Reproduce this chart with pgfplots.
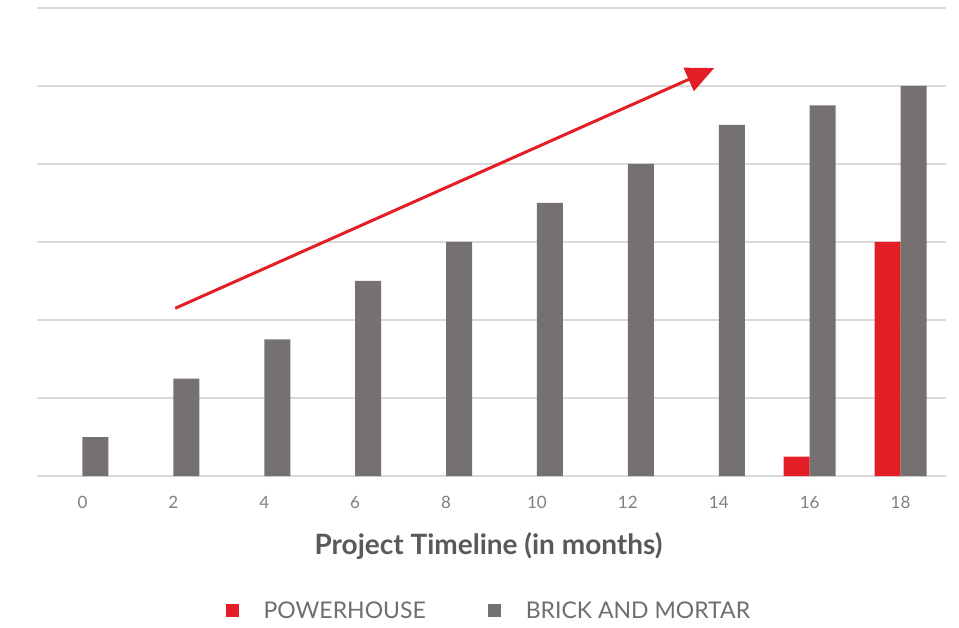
\documentclass[border=0pt]{standalone}
\usepackage{pgfplots}
\pgfplotsset{compat=1.18}
\usepackage{fontspec}
\setmainfont{Lato}
\usetikzlibrary{arrows.meta}
\definecolor{phred}{HTML}{E41E26}
\definecolor{bmgrey}{HTML}{767171}
\definecolor{gridgrey}{HTML}{D9D9D9}
\definecolor{tickgrey}{HTML}{7F7F7F}
\definecolor{lblgrey}{HTML}{595959}
\definecolor{leggrey}{HTML}{6E6E6E}
\begin{document}
\begin{tikzpicture}[x=1pt,y=1pt]
\path[use as bounding box] (0,0) rectangle (959,627);
\begin{axis}[
  at={(37pt,151pt)}, anchor=south west,
  scale only axis, width=909pt, height=468pt,
  xmin=-1, xmax=19, ymin=0, ymax=6,
  ybar=0pt, bar width=26pt,
  axis line style={draw=none},
  xtick={0,2,...,18}, ytick={0,...,6}, yticklabels={},
  major tick length=0pt,
  ymajorgrids=true,
  grid style={gridgrey, line width=2pt},
  /pgf/number format/assume math mode=true,
  xticklabel style={font=\fontsize{17}{19}\selectfont, text=tickgrey, yshift=-17pt},
  xlabel={Project Timeline (in months)},
  xlabel style={at={(axis description cs:0.4967,-0.1496)}, anchor=center,
    font=\fontsize{28}{32}\selectfont\bfseries, text=lblgrey},
  legend columns=2,
  legend style={at={(axis description cs:0.496,-0.288)}, anchor=center,
    draw=none, fill=none, font=\fontsize{23}{26}\selectfont, text=leggrey,
    nodes={inner sep=0pt},
    /tikz/every odd column/.append style={column sep=25pt},
    /tikz/every even column/.append style={column sep=62pt}},
  legend image code/.code={\fill[#1] (0pt,-6.5pt) rectangle (13pt,6.5pt);},
  clip=false,
]
  % POWERHOUSE
  \addplot[fill=phred, draw=none] coordinates {(16,0.25) (18,3)};
  \addlegendentry{POWERHOUSE}
  % BRICK AND MORTAR
  \addplot[fill=bmgrey, draw=none] coordinates {
    (0,0.5) (2,1.25) (4,1.75) (6,2.5) (8,3) (10,3.5)
    (12,4) (14,4.5) (16,4.75) (18,5)};
  \addlegendentry{BRICK AND MORTAR}

  \draw[phred, line width=3pt, -{Triangle[length=28pt,width=25pt]}]
    (axis cs:2.04,2.15) -- (axis cs:13.9,5.23);
\end{axis}
\end{tikzpicture}
\end{document}
